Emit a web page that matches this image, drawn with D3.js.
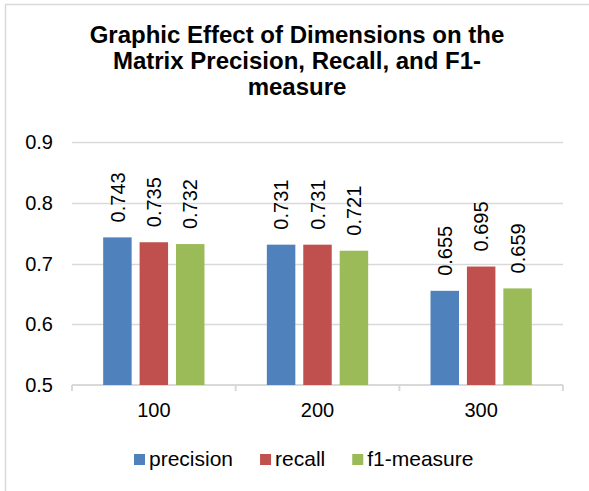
<!DOCTYPE html>
<meta charset="utf-8">
<script src="https://d3js.org/d3.v7.min.js"></script>
<style>
  body { margin: 0; background: #fff; }
  text { font-family: "Liberation Sans", Arial, sans-serif; fill: #000; }
</style>
<div id="chart"></div>
<script>

// data
var titleLines = ["Graphic Effect of Dimensions on the", "Matrix Precision, Recall, and F1-", "measure"];
var dims = ["100", "200", "300"];
var seriesNames = ["precision", "recall", "f1-measure"];
var precision = [0.743, 0.731, 0.655];
var recall = [0.735, 0.731, 0.695];
var f1 = [0.732, 0.721, 0.659];
var yTicks = [0.5, 0.6, 0.7, 0.8, 0.9];
var colors = ["#4F81BD", "#C0504D", "#9BBB59"];

var width = 589, height = 491;
var margin = {top: 142, right: 26, bottom: 106, left: 72};

var svg = d3.select("#chart")
  .append("svg")
    .attr("width", width)
    .attr("height", height);

// outer chart border
svg.append("rect")
  .attr("x", 5.5).attr("y", 4.5)
  .attr("width", width + 10).attr("height", height + 10)
  .style("fill", "none")
  .style("stroke", "#d9d9d9")
  .style("stroke-width", 1.5);

// title
svg.append("g").selectAll("text")
  .data(titleLines)
  .enter()
  .append("text")
    .attr("x", 297)
    .attr("y", function(d, i) { return 42.5 + i * 26; })
    .attr("text-anchor", "middle")
    .style("font-size", "24px")
    .style("font-weight", "bold")
    .text(function(d) { return d; });

var g = svg.append("g")
  .attr("transform", "translate(" + margin.left + "," + margin.top + ")");

var w = width - margin.left - margin.right,
    h = 385 - margin.top;

var x = d3.scaleBand().domain(dims).range([0, w]);
var y = d3.scaleLinear().domain([0.5, 0.9]).range([h, 0]);

// gridlines
g.append("g").selectAll("line")
  .data(yTicks.slice(1))
  .enter()
  .append("line")
    .attr("x1", 0).attr("x2", w)
    .attr("y1", function(d) { return Math.round(y(d)) + 0.5; })
    .attr("y2", function(d) { return Math.round(y(d)) + 0.5; })
    .style("stroke", "#d9d9d9")
    .style("stroke-width", 1.5);

// y labels
g.append("g").selectAll("text")
  .data(yTicks)
  .enter()
  .append("text")
    .attr("x", -19)
    .attr("y", function(d) { return y(d); })
    .attr("dy", "0.35em")
    .attr("text-anchor", "end")
    .style("font-size", "20px")
    .text(function(d) { return d3.format(".1f")(d); });

// x axis
var xAxis = g.append("g")
  .attr("transform", "translate(0," + h + ")");
xAxis.append("line")
  .attr("x1", 0).attr("x2", w)
  .style("stroke", "#d9d9d9")
  .style("stroke-width", 2);
xAxis.selectAll(".tk")
  .data(d3.range(dims.length + 1))
  .enter()
  .append("line")
    .attr("x1", function(i) { return i * x.step(); })
    .attr("x2", function(i) { return i * x.step(); })
    .attr("y1", 0).attr("y2", 6)
    .style("stroke", "#d9d9d9")
    .style("stroke-width", 2);
xAxis.selectAll("text")
  .data(dims)
  .enter()
  .append("text")
    .attr("x", function(d) { return x(d) + x.bandwidth() / 2; })
    .attr("y", 32)
    .attr("text-anchor", "middle")
    .style("font-size", "20px")
    .text(function(d) { return d; });

// bars
var series = [precision, recall, f1];
var barW = x.bandwidth() * 0.174,
    barStep = x.bandwidth() * 0.2225;

series.forEach(function(vals, s) {
  var sg = g.append("g");
  var cx = function(i) { return x(dims[i]) + x.bandwidth() / 2 + (s - 1) * barStep; };
  sg.selectAll("rect")
    .data(vals)
    .enter()
    .append("rect")
      .attr("x", function(d, i) { return cx(i) - barW / 2; })
      .attr("y", function(d) { return y(d); })
      .attr("width", barW)
      .attr("height", function(d) { return h - y(d); })
      .style("fill", colors[s]);
  sg.selectAll("text")
    .data(vals)
    .enter()
    .append("text")
      .attr("transform", function(d, i) {
        return "translate(" + cx(i) + "," + (y(d) - 15) + ") rotate(-90)";
      })
      .attr("dy", "0.36em")
      .style("font-size", "20px")
      .text(function(d) { return d3.format(".3f")(d); });
});

// legend
var legend = svg.append("g").attr("transform", "translate(0,466)");
var lx = 134;
seriesNames.forEach(function(name, i) {
  legend.append("rect")
    .attr("x", lx).attr("y", -12)
    .attr("width", 11).attr("height", 11)
    .style("fill", colors[i]);
  var t = legend.append("text")
    .attr("x", lx + 15)
    .attr("y", 0)
    .style("font-size", "21px")
    .text(name);
  lx += 15 + t.node().getComputedTextLength() + 27;
});

</script>
